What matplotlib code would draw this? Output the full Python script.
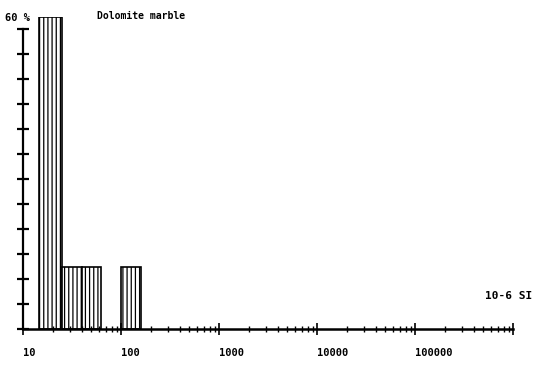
import matplotlib.pyplot as plt
import numpy as np

# bins in log10 of susceptibility (10-6 SI) and percent of samples
bin_left = [1.16, 1.4, 1.6, 2.0]
bin_right = [1.4, 1.6, 1.8, 2.2]
percent = [62.5, 12.5, 12.5, 12.5]

major_ticks = [10, 100, 1000, 10000, 100000, 1000000]
major_labels = ["10", "100", "1000", "10000", "100000", ""]

plt.rcParams['font.family'] = 'DejaVu Sans Mono'
plt.rcParams['hatch.linewidth'] = 0.9

fig = plt.figure(figsize=(5.57, 3.71), dpi=100)
ax = fig.add_axes([23/557, 42/371, 490/557, 312/371])

left = 10 ** np.array(bin_left)
right = 10 ** np.array(bin_right)
ax.bar(left, percent, width=right - left, align='edge', facecolor='white',
       edgecolor='black', linewidth=1.2, hatch='||||')

ax.set_xscale('log')
ax.set_xlim(10, 1e6)
ax.set_ylim(0, 62.5)

ax.spines['top'].set_visible(False)
ax.spines['right'].set_visible(False)
ax.spines['left'].set_bounds(0, 60)
ax.spines['left'].set_linewidth(1.6)
ax.spines['bottom'].set_linewidth(1.8)

ax.set_xticks(major_ticks)
ax.set_xticklabels(major_labels, fontsize=7.5, fontweight='bold', ha='left')
ax.tick_params(axis='x', which='major', direction='inout', length=9, width=1.2, pad=9)
ax.tick_params(axis='x', which='minor', direction='inout', length=5, width=1.0)
ax.set_yticks(np.arange(0, 61, 5))
ax.set_yticklabels([])
ax.tick_params(axis='y', direction='inout', length=8, width=1.6)

fig.text(5/557, 1 - 18/371, "60 %", fontsize=7.5, fontweight='bold', va='center')
fig.text(97/557, 1 - 16/371, "Dolomite marble", fontsize=7, fontweight='bold', va='center')
fig.text(485/557, 1 - 296/371, "10-6 SI", fontsize=8, fontweight='bold', va='center')

fig.savefig("out.png", dpi=100)
